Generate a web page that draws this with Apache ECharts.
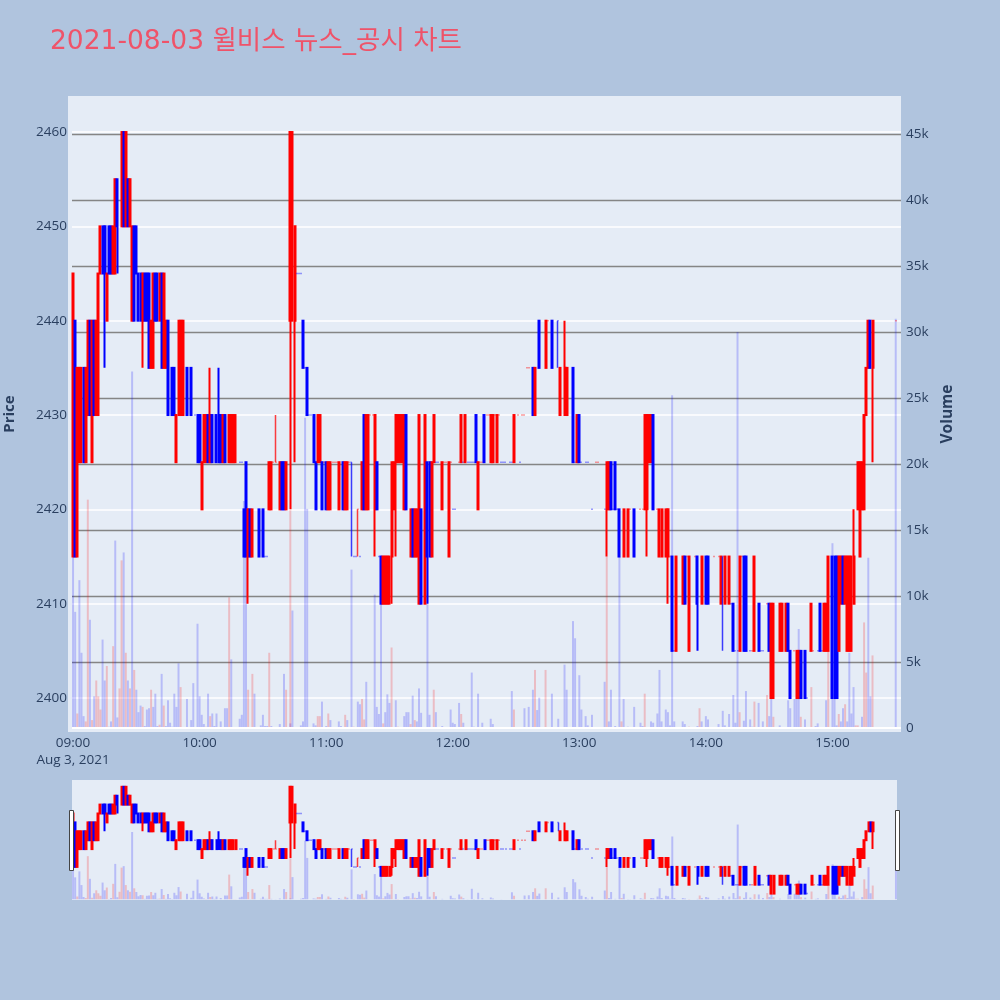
<!DOCTYPE html>
<html><head><meta charset="utf-8">
<style>html,body{margin:0;padding:0;background:#B0C4DE}#c{width:1000px;height:1000px}</style>
<script src="https://cdn.jsdelivr.net/npm/echarts@6/dist/echarts.min.js"></script>
</head><body><div id="c"></div>
<script>
const titleText = '2021-08-03 윌비스 뉴스_공시 차트';
const priceTicks = [2400,2410,2420,2430,2440,2450,2460];
const volumeTicks = [0,5000,10000,15000,20000,25000,30000,35000,40000,45000];
const hourLabels = ['09:00','10:00','11:00','12:00','13:00','14:00','15:00'];
// [minute after 09:00, open, close, (low, high)]
const candleRows = [
[0,2415,2445],[1,2440,2415],[2,2415,2435],[3,2425,2435],[4,2425,2435],[5,2435,2425],[6,2425,2435],[7,2430,2440],[8,2440,2430],[9,2425,2440],
[10,2440,2430],[11,2430,2440],[12,2430,2445],[13,2445,2450],[14,2450,2445],[15,2450,2445,2435,2450],[16,2440,2445],[17,2450,2445],[18,2450,2445],[19,2445,2450],
[20,2445,2455],[21,2455,2450,2445,2455],[23,2450,2460],[24,2460,2450],[25,2450,2460],[26,2455,2450],[27,2450,2455],[28,2440,2450],[29,2450,2440],
[30,2450,2445],[31,2445,2440],[32,2445,2440],[33,2440,2445,2435,2445],[34,2445,2440],[35,2445,2440],[36,2445,2435],[37,2435,2440],[38,2435,2445],[39,2445,2440],
[40,2445,2440],[41,2440,2445],[42,2445,2435],[43,2435,2445],[44,2435,2440],[45,2440,2430],[47,2435,2430],[48,2435,2430],[49,2425,2430],
[50,2430,2440],[51,2430,2440],[52,2430,2440],[54,2435,2430],[56,2435,2430],[59,2430,2425],
[60,2430,2425],[61,2420,2425],[62,2425,2430],[63,2425,2430],[64,2430,2425],[65,2425,2430,2425,2435],[66,2430,2425],[68,2430,2425],[69,2430,2425,2425,2435],
[70,2430,2425],[71,2425,2430],[72,2430,2425],[74,2425,2430],[75,2425,2430],[76,2425,2430],[77,2425,2430],
[81,2420,2415],[82,2425,2415],[83,2415,2420,2410,2420],[84,2420,2415],[85,2415,2420],[88,2420,2415],
[90,2420,2415],[93,2420,2425],[94,2420,2425],[98,2420,2425],[99,2425,2420],
[100,2425,2420],[101,2420,2425],[103,2440,2460,2420,2460],[104,2440,2460],[105,2440,2450,2425,2450],[109,2440,2435],
[111,2435,2430],[114,2430,2425],[115,2425,2420],[116,2425,2430],[117,2425,2430],[118,2425,2420],
[120,2425,2420],[121,2420,2425],[122,2420,2425],[126,2420,2425],[128,2425,2420],[129,2420,2425],
[130,2420,2425],[137,2420,2425],[138,2430,2420],[139,2420,2430],
[140,2420,2430],[143,2420,2430,2415,2430],[144,2425,2420],[146,2415,2410],[147,2410,2415],[148,2410,2415],[149,2410,2415],
[150,2410,2415],[151,2415,2425,2410,2425],[152,2420,2425],[153,2425,2430,2415,2430],[154,2425,2430],[155,2425,2430],[156,2425,2430],[157,2420,2430],[158,2430,2420],
[160,2415,2420],[161,2420,2415],[162,2415,2420],[163,2415,2420],[164,2410,2430],[165,2420,2410],[167,2410,2430],[168,2425,2415,2410,2425],[169,2425,2415],
[170,2415,2425],[171,2425,2430],[175,2420,2425],[178,2415,2425],
[184,2425,2430],[186,2425,2430],[191,2430,2425],[192,2420,2425],[195,2430,2425],[198,2425,2430],[199,2425,2430],
[201,2425,2430],[209,2425,2430],[218,2435,2430],[219,2430,2435],
[221,2440,2435],[224,2435,2440],[227,2440,2435],[231,2430,2435],[233,2430,2435,2430,2440],[234,2430,2435],[237,2435,2425],[239,2425,2430],
[240,2430,2425],[253,2420,2425,2415,2425],[254,2420,2425],[255,2425,2420],[257,2425,2420],[259,2420,2415],
[261,2415,2420],[263,2415,2420],[266,2420,2415],[271,2420,2430],[272,2420,2430,2415,2430],[273,2425,2430],[274,2425,2430],[275,2430,2420],[278,2415,2420],[279,2415,2420],
[281,2415,2420],[282,2415,2420,2410,2420],[284,2415,2405],[286,2405,2415],[289,2410,2415],
[290,2415,2410],[292,2405,2415],[296,2415,2410,2405,2415],[298,2410,2415],
[300,2415,2410],[301,2415,2410],[307,2410,2415],[309,2410,2415],
[311,2410,2415],[313,2410,2405],[316,2405,2415],[318,2415,2405],[319,2415,2405],
[323,2405,2415],[325,2410,2405],[330,2410,2405],[331,2400,2410],[332,2400,2410],[335,2405,2410],[336,2405,2410],[338,2405,2410],[339,2410,2405],
[340,2405,2400],[343,2400,2405],[344,2400,2405],[345,2405,2400],[347,2405,2400],
[350,2405,2410],[354,2410,2405],[356,2405,2410],[357,2405,2410],[358,2405,2415],
[360,2415,2400],[361,2415,2400],[362,2415,2400],[363,2405,2415],[364,2410,2415],[365,2415,2410],[366,2410,2415],[367,2405,2415],[368,2405,2415],[369,2405,2415],
[370,2410,2415,2410,2420],[372,2420,2425],[373,2415,2425],[374,2420,2425],[375,2420,2430],[376,2430,2435],[377,2435,2440],[378,2440,2435],[379,2435,2440,2425,2440]
];
// flat minutes: [minute, price, (low, high)]
const flatRed = [[95,2425],[96,2425,2425,2430],[119,2425],[123,2425],[124,2425],[125,2425],[131,2425],[135,2420,2415,2420],[141,2430],[142,2430],
[176,2425],[177,2425],[179,2425],[183,2425],[193,2425],[194,2425],[196,2430],[197,2430],[200,2430],[202,2430],[211,2430],[213,2430],[214,2430],[215,2435],[216,2435],[225,2440],
[248,2425],[249,2425],[264,2420],[269,2420],[270,2420],[277,2420],[283,2415],[291,2415],[295,2415],[304,2415],[306,2415],[317,2415],[322,2405],[329,2410],[342,2405],[351,2405],[390,2440]];
const flatBlue = [[58,2430],[79,2425],[80,2425],[91,2415],[92,2415],[106,2445],[107,2445],[108,2445],[110,2435],[112,2430],[113,2430],[132,2425,2415,2425],[133,2415],[134,2415],[136,2415],[145,2415],
[172,2425],[173,2425],[180,2420],[181,2420],[185,2425],[187,2425],[188,2425],[189,2425],[190,2425],[203,2425],[204,2425],[205,2425],[207,2425],[208,2425],[212,2425],[230,2440,2435,2440],
[238,2425],[241,2425],[243,2425],[244,2425],[246,2420],[252,2420],[256,2420],[258,2420],[285,2405],[308,2415,2405,2415],[312,2410],[314,2405],[315,2405],[321,2405],[326,2405],[327,2405],[348,2400],[353,2405],[355,2405]];
// [minute, volume in thousands]
const volumeBlue = [[0,13],[1,8.8],[3,11.2],[4,5.7],[5,.9],[8,8.2],[10,2.4],[14,6.7],[15,3.6],[17,.1],[18,.5],[20,14.2],[21,.8],[24,13.3],[26,3.6],[28,27],[30,2.9],[31,1.2],[32,1.7],[34,.15],[35,1.4],[36,1.5],[38,1.6],[39,2.6],[40,.15],[42,4.1],[44,.15],[45,2.1],[46,.4],[47,.1],[48,2.6],[49,1.6],[50,4.9],
[54,2.2],[56,.6],[57,3.4],[59,7.9],[60,2.4],[61,1],[62,.3],[64,2.6],[66,1.1],[67,.15],[68,1.1],[70,.5],[72,1.5],[73,1.5],[75,5.2],[79,.7],[80,1],[81,17.2],[82,13.6],[84,.05],[86,2.6],[89,.2],[90,1],[91,.15],[92,.15],[94,.15],[96,.05],[98,.3],[100,4.1],[103,.35],[104,8.9],[108,.2],[109,.5],[110,23.5],[111,16.6],[114,.35],[115,.2],[118,2],[120,.15],
[122,.6],[126,.5],[127,.15],[128,.05],[130,.6],[132,12],[135,2],[136,1.8],[139,3.5],[143,10.1],[144,1.6],[145,1.06],[146,9.6],[148,1.2],[149,2.55],[150,1.9],[153,2.1],[157,.9],[158,1.2],[159,1.2],[161,2.45],[163,.5],[164,3],[165,1.15],[168,9.4],[169,1],[172,1.2],[175,.15],[179,1.4],[180,.4],[181,.3],[183,1.9],[185,.4],[187,.05],[189,4.2],[190,.1],[192,2.6],[194,.4],[198,.7],[199,.3],[203,.05],[208,2.8],[214,1.5],[216,1.6],[218,2.9],[220,1.36],[221,2.3],[227,2.6],[228,.05],[230,.7],[233,4.8],[234,2.9],[237,8.1],[238,6.8],[240,4],[241,1.4],[243,.9],[244,.2],[246,1],[252,3.5],
[254,.5],[255,2.9],[257,.15],[259,13],[261,2.2],[263,.1],[264,.05],[266,1.6],[269,.4],[270,.15],[274,.5],[275,.4],[277,1.1],[278,4.4],[279,.5],[281,1.4],[282,1.2],[283,.2],[284,25.2],[285,.5],[289,.5],[290,.3],[296,.15],[298,.5],[300,.9],[301,.65],[306,.3],[308,1.3],[309,.2],[311,1.06],[313,2.5],[314,.4],[315,30],[318,.55],[319,2.8],[321,.65],[322,.1],[325,1.9],[327,.5],[330,.9],[331,2.2],[335,.2],[339,2.1],[340,1.5],[342,2.2],[343,2.2],[344,7.5],[347,.65],[352,.15],[353,.35],[357,2.1],[360,14],[361,2.6],[362,.2],[364,.5],[365,1.5],[367,.5],[368,5.7],[369,1.1],[370,3.1],[374,.85],[377,12.9],[378,2.4],[390,31]];
const volumeRed = [[2,1.1],[6,.5],[7,17.3],[9,.6],[11,3.6],[12,2.4],[13,1.4],[16,4.7],[19,6.2],[22,3],[23,12.7],[25,5.7],[27,3],[29,4.4],[33,1.6],[37,2.9],[41,.25],[43,1.7],[51,3.1],[63,.1],[65,.9],[74,9.9],[76,.05],[77,.05],[83,2.9],[85,4.1],[93,5.7],[101,2.9],[103,16.5],[116,.9],[117,.9],[121,1.1],
[129,1],[133,.1],[137,2.2],[138,.65],[140,.05],[147,.35],[151,6.1],[152,.05],[154,.1],[160,.3],[162,.6],[167,.05],[171,2.9],[184,1.06],[209,1.4],[215,.05],[219,4.4],[224,4.4],
[253,13],[260,.5],[271,2.6],[286,.05],[292,.1],[297,1.5],[316,1.2],[323,2],[329,2.5],[332,.85],[345,.85],[350,3.1],[358,5.9],[363,1.06],[366,1.8],[371,.2],[372,.2],[375,8],[376,4.2],[379,5.5]];

const UP='#ff0000', DOWN='#0000ff';
const minuteCount = 393;
const categories = Array.from({length:minuteCount},(_,i)=>{
  const t=540+i; return String(Math.floor(t/60)).padStart(2,'0')+':'+String(t%60).padStart(2,'0');
});
const candleData = new Array(minuteCount).fill('-');
candleRows.forEach(r=>{
  const [m,o,c,l,h]=r;
  candleData[m]={value:[o,c,l===undefined?Math.min(o,c):l,h===undefined?Math.max(o,c):h]};
});
function addFlat(rows,col){
  rows.forEach(r=>{
    const [m,p,l,h]=r;
    candleData[m]={value:[p,p,l===undefined?p:l,h===undefined?p:h],
      itemStyle:{color:col,color0:col,borderColor:col,borderColor0:col,borderColorDoji:col,borderWidth:1.5,opacity:.75}};
  });
}
addFlat(flatRed,UP); addFlat(flatBlue,DOWN);
function fullVol(rows){
  const a=new Array(minuteCount).fill(null);
  rows.forEach(r=>{a[r[0]]=r[1]*1000;});
  return a;
}
const blueVol=fullVol(volumeBlue), redVol=fullVol(volumeRed);
const font='"Open Sans","Noto Sans CJK KR",sans-serif', ink='#2a3f5f';
const pMin=2396.4,pMax=2463.82,vMin=-303,vMax=47880;
const fmtK=v=>v===0?'0':(v/1000)+'k';

function candle(x,y,w,z){
  return {type:'candlestick',xAxisIndex:x,yAxisIndex:y,barWidth:w,z:z,data:candleData,silent:true,
    itemStyle:{color:UP,color0:DOWN,borderColor:UP,borderColor0:DOWN,borderColorDoji:DOWN,borderWidth:2}};
}
function vol(name,x,y,data,c,extra){
  return Object.assign({type:'bar',name:name,xAxisIndex:x,yAxisIndex:y,barWidth:2,barGap:'-100%',data:data,silent:true,z:2,
    itemStyle:{color:c,opacity:.2}},extra||{});
}
const chart=echarts.init(document.getElementById('c'),null,{renderer:'canvas'});
chart.setOption({
  animation:false,
  backgroundColor:'#B0C4DE',
  title:{text:titleText,left:50,top:29,padding:0,textStyle:{color:'#EF5369',fontFamily:'"DejaVu Sans","Noto Sans CJK KR",sans-serif',fontSize:26.5,fontWeight:'normal'}},
  grid:[
    {left:72,top:96,width:829,height:636,show:true,backgroundColor:'#E5ECF6',borderWidth:0,outerBoundsMode:'none'},
    {left:72,top:780,width:825,height:120,show:true,backgroundColor:'#E5ECF6',borderWidth:0,outerBoundsMode:'none'}
  ],
  xAxis:[
    {type:'category',gridIndex:0,data:categories,boundaryGap:true,axisLine:{show:false},axisTick:{show:false},splitLine:{show:false},
      axisLabel:{color:ink,fontFamily:font,fontSize:13.5,margin:3,lineHeight:17,showMinLabel:true,hideOverlap:false,
        interval:(i,v)=>hourLabels.includes(v),
        formatter:v=>v==='09:00'?v+'\nAug 3, 2021':v}},
    {type:'category',gridIndex:1,data:categories,max:390,boundaryGap:true,axisLine:{show:false},axisTick:{show:false},axisLabel:{show:false},splitLine:{show:false}}
  ],
  yAxis:[
    {type:'value',gridIndex:0,position:'left',min:pMin,max:pMax,name:'Price',nameLocation:'middle',nameGap:55,nameRotate:90,
      nameTextStyle:{color:ink,fontFamily:font,fontSize:15,fontWeight:'bold'},
      axisLine:{show:false},axisTick:{show:false,customValues:priceTicks},
      axisLabel:{color:ink,fontFamily:font,fontSize:13.5,margin:5,customValues:priceTicks,formatter:v=>String(v)},
      splitLine:{show:true,lineStyle:{color:'#ffffff',width:1.5}}},
    {type:'value',gridIndex:0,position:'right',min:vMin,max:vMax,name:'Volume',nameLocation:'middle',nameGap:38,nameRotate:90,
      nameTextStyle:{color:ink,fontFamily:font,fontSize:15.5,fontWeight:'bold'},
      axisLine:{show:false},axisTick:{show:false,customValues:volumeTicks.slice(1)},
      axisLabel:{color:ink,fontFamily:font,fontSize:13.5,margin:5,customValues:volumeTicks,formatter:fmtK},
      splitLine:{show:true,lineStyle:{color:'#858585',width:1.3}}},
    {type:'value',gridIndex:1,min:pMin,max:pMax,show:false,splitLine:{show:false}},
    {type:'value',gridIndex:1,min:vMin,max:vMax,show:false,splitLine:{show:false}}
  ],
  series:[
    vol('volume-down',0,1,blueVol,DOWN,{markLine:{silent:true,symbol:'none',label:{show:false},lineStyle:{color:'#fff',width:2,type:'solid'},data:[{yAxis:0}]}}),
    vol('volume-up',0,1,redVol,UP),
    candle(0,0,1.5,5),
    vol('volume-down-mini',1,3,blueVol,DOWN),
    vol('volume-up-mini',1,3,redVol,UP),
    candle(1,2,1.5,5)
  ],
  graphic:[
    {type:'rect',z:-1,silent:true,shape:{x:68,y:96,width:4,height:636},style:{fill:'#E5ECF6'}},
    {type:'rect',z:100,silent:true,shape:{x:69.5,y:810.5,width:4,height:60},style:{fill:'#ffffff',stroke:'#444444',lineWidth:1}},
    {type:'rect',z:100,silent:true,shape:{x:895.5,y:810.5,width:4,height:60},style:{fill:'#ffffff',stroke:'#444444',lineWidth:1}}
  ]
});
</script></body></html>
